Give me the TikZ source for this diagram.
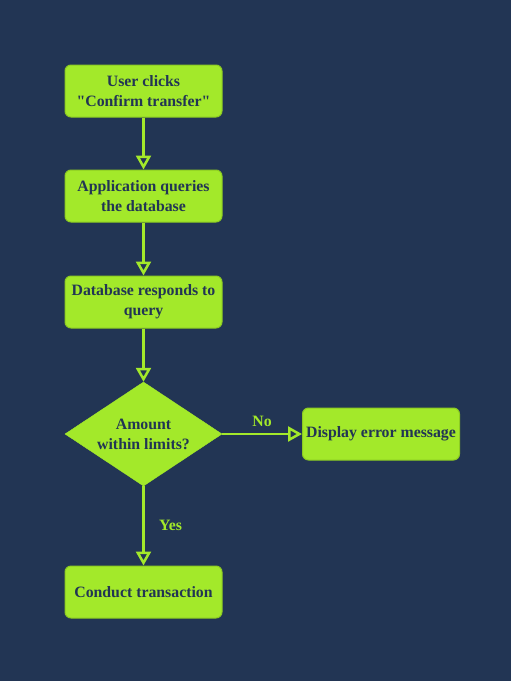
\documentclass[tikz,border=0pt]{standalone}
\usepackage{fontspec}
\setmainfont{Liberation Serif}[Ligatures=TeXOff]
\usetikzlibrary{arrows.meta,shapes.geometric}
\definecolor{bg}{HTML}{223554}
\definecolor{boxfill}{HTML}{A3E92A}
\definecolor{boxedge}{HTML}{8CCB22}
\begin{document}
\begin{tikzpicture}[x=1pt,y=-1pt,
  proc/.style={draw=boxedge, line width=1pt, fill=boxfill, rounded corners=6pt,
    minimum width=157pt, minimum height=52pt, inner sep=2pt, align=center,
    text=bg, font=\bfseries\fontsize{15.8}{20}\selectfont},
  decision/.style={diamond, draw=boxfill, fill=boxfill, minimum width=157pt, minimum height=104pt,
    inner sep=0pt, aspect=1.51, align=center, text=bg, font=\bfseries\fontsize{15.8}{20}\selectfont},
  conn/.style={draw=boxfill, line width=2.5pt, -{Triangle[open, length=14pt, width=15pt, line width=2.5pt]}},
  lbl/.style={text=boxfill, font=\bfseries\fontsize{15.8}{18}\selectfont}]
\fill[bg] (0,0) rectangle (511,681);
\useasboundingbox (0,0) rectangle (511,681);
\node[proc] (n1) at (143.5,91) {User clicks\\"Confirm transfer"};
\node[proc] (n2) at (143.5,196) {Application queries\\the database};
\node[proc] (n3) at (143.5,302) {Database responds to\\query};
\node[decision] (d) at (143.5,434) {Amount\\within limits?};
\node[proc] (err) at (381,434) {Display error message};
\node[proc] (n5) at (143.5,592) {Conduct transaction};
\draw[conn] (n1) -- (n2);
\draw[conn] (n2) -- (n3);
\draw[conn] (n3) -- (d);
\draw[conn] (d) -- node[lbl, above=3pt, pos=0.5] {No} (err);
\draw[conn] (d) -- node[lbl, right=11pt, pos=0.5] {Yes} (n5);
\end{tikzpicture}
\end{document}
